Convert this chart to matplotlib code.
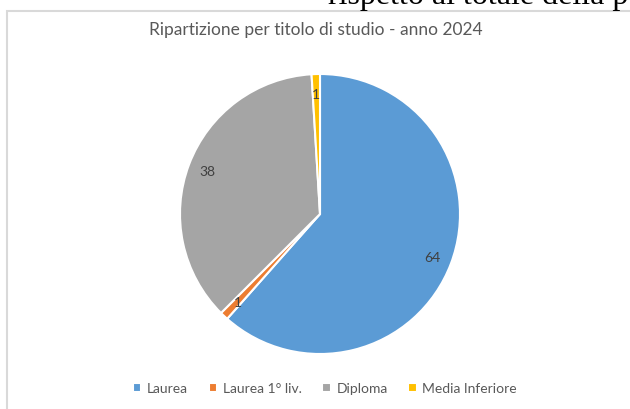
import numpy as np
from matplotlib import pyplot as plt
from matplotlib.patches import Rectangle

# Titoli di studio, anno 2024
categorie = ['Laurea', 'Laurea 1° liv.', 'Diploma', 'Media Inferiore']
valori = [64, 1, 38, 1]
colori = ['#5B9BD5', '#ED7D31', '#A5A5A5', '#FFC000']

plt.rcParams['font.family'] = ['Lato', 'DejaVu Sans']

fig = plt.figure(figsize=(6.3, 4.1), dpi=100)
fig.patch.set_facecolor('white')

# testo del documento, tagliato in alto
fig.text(328/630, 1 - 4/410, 'rispetto al totale della p', family='Liberation Serif',
         fontsize=23, color='black', ha='left', va='baseline')

# cornice del grafico
fig.patches.append(Rectangle((7/630, -0.1), 1.0, 1 - 12/410 + 0.1,
                             transform=fig.transFigure, fill=False,
                             edgecolor='#d9d9d9', linewidth=1.5))

ax = fig.add_axes([(320-140)/630, (410-215-140)/410, 280/630, 280/410])
wedges, _ = ax.pie(valori, colors=colori, startangle=90, counterclock=False,
                   wedgeprops=dict(edgecolor='white', linewidth=1.5))
ax.set_xlim(-1, 1)
ax.set_ylim(-1, 1)
ax.set_aspect('equal')

# etichette dei valori a 0.86 del raggio
for w, v in zip(wedges, valori):
    ang = np.deg2rad((w.theta1 + w.theta2) / 2)
    ax.text(0.86*np.cos(ang), 0.86*np.sin(ang), str(v), ha='center', va='center',
            fontsize=10, color='#404040')

fig.text(316/630, 1 - 30/410, 'Ripartizione per titolo di studio - anno 2024',
         ha='center', va='center', fontsize=12.5, color='#595959')

ax.legend(wedges, categorie, loc='center', bbox_to_anchor=(325/630, 1 - 389/410),
          bbox_transform=fig.transFigure, ncol=4, frameon=False, fontsize=10,
          labelcolor='#595959', handlelength=0.6, handleheight=0.6,
          handletextpad=0.4, columnspacing=1.5)

plt.savefig('out.png', dpi=100)
